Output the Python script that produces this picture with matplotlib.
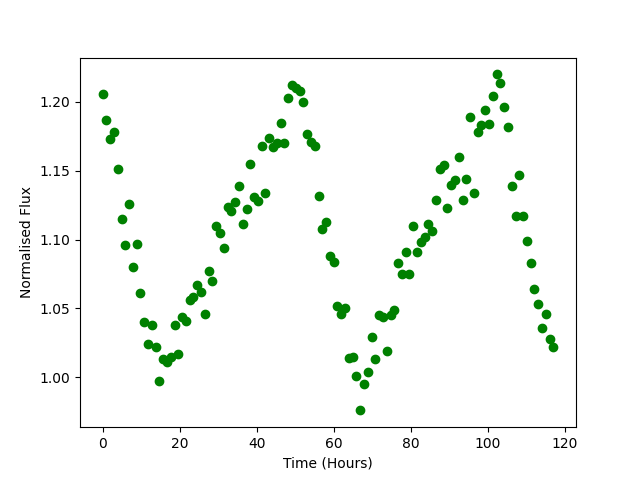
# plot.py
# Light curve: normalised flux against time
import matplotlib
matplotlib.use("Agg")
import matplotlib.pyplot as plt

# time of each sample, hours
time_hours = [
    0.00, 0.98, 1.97, 2.95, 3.93, 4.92, 5.90, 6.88, 7.87, 8.85,
    9.83, 10.82, 11.80, 12.78, 13.76, 14.75, 15.73, 16.71, 17.70, 18.68,
    19.66, 20.65, 21.63, 22.61, 23.60, 24.58, 25.56, 26.55, 27.53, 28.51,
    29.50, 30.48, 31.46, 32.45, 33.43, 34.41, 35.39, 36.38, 37.36, 38.34,
    39.33, 40.31, 41.29, 42.28, 43.26, 44.24, 45.23, 46.21, 47.19, 48.18,
    49.16, 50.14, 51.13, 52.11, 53.09, 54.08, 55.06, 56.04, 57.03, 58.01,
    58.99, 59.97, 60.96, 61.94, 62.92, 63.91, 64.89, 65.87, 66.86, 67.84,
    68.82, 69.81, 70.79, 71.77, 72.76, 73.74, 74.72, 75.71, 76.69, 77.67,
    78.66, 79.64, 80.62, 81.61, 82.59, 83.57, 84.55, 85.54, 86.52, 87.50,
    88.49, 89.47, 90.45, 91.44, 92.42, 93.40, 94.39, 95.37, 96.35, 97.34,
    98.32, 99.30, 100.29, 101.27, 102.25, 103.24, 104.22, 105.20, 106.18, 107.17,
    108.15, 109.13, 110.12, 111.10, 112.08, 113.07, 114.05, 115.03, 116.02, 117.00,
]

# normalised flux
flux = [
    1.206, 1.187, 1.173, 1.178, 1.151, 1.115, 1.096, 1.126, 1.080, 1.097,
    1.061, 1.040, 1.024, 1.038, 1.022, 0.997, 1.013, 1.011, 1.015, 1.038,
    1.017, 1.044, 1.041, 1.056, 1.058, 1.067, 1.062, 1.046, 1.077, 1.070,
    1.110, 1.105, 1.094, 1.124, 1.121, 1.127, 1.139, 1.111, 1.122, 1.155,
    1.131, 1.128, 1.168, 1.134, 1.174, 1.167, 1.170, 1.185, 1.170, 1.203,
    1.212, 1.210, 1.208, 1.200, 1.177, 1.171, 1.168, 1.132, 1.108, 1.113,
    1.088, 1.084, 1.052, 1.046, 1.050, 1.014, 1.015, 1.001, 0.976, 0.995,
    1.004, 1.029, 1.013, 1.045, 1.044, 1.019, 1.045, 1.049, 1.083, 1.075,
    1.091, 1.075, 1.110, 1.091, 1.098, 1.102, 1.111, 1.106, 1.129, 1.151,
    1.154, 1.123, 1.140, 1.143, 1.160, 1.129, 1.144, 1.189, 1.134, 1.178,
    1.183, 1.194, 1.184, 1.204, 1.220, 1.214, 1.196, 1.182, 1.139, 1.117,
    1.147, 1.117, 1.099, 1.083, 1.064, 1.053, 1.036, 1.046, 1.028, 1.022,
]


def plot_light_curve(out_path):
    fig, ax = plt.subplots(figsize=(6.4, 4.8), dpi=100)
    ax.plot(time_hours, flux, 'o', color='green')
    ax.set_xlabel('Time (Hours)')
    ax.set_ylabel('Normalised Flux')
    fig.savefig(out_path)
    plt.close(fig)


if __name__ == "__main__":
    plot_light_curve("out.png")
